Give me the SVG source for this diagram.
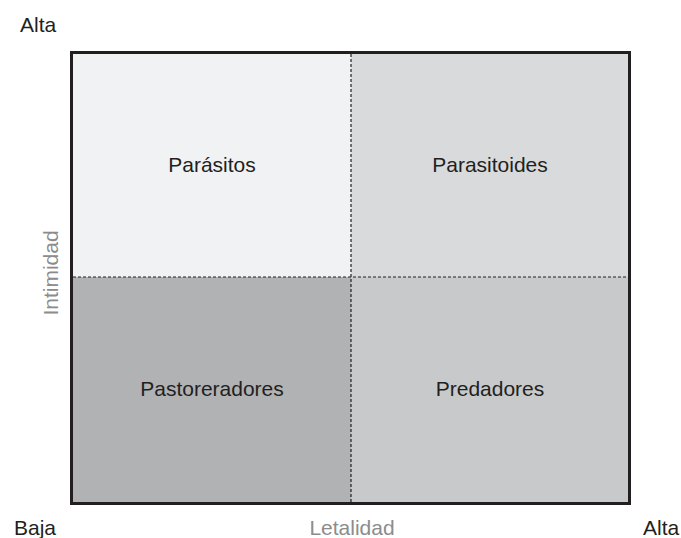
<svg xmlns="http://www.w3.org/2000/svg" width="681" height="538" viewBox="0 0 681 538">
<style>
text{font-family:"Liberation Sans",Arial,sans-serif;font-size:21px;fill:#231f20}
.q{text-anchor:middle}
.ax{fill:#8c8c8c;text-anchor:middle}
.div{stroke:#231f20;stroke-width:1.2;stroke-dasharray:3,2;fill:none}
</style>
<g id="quadrants">
<g id="parasitos"><rect x="71.5" y="52.5" width="279.5" height="224.5" fill="#f1f2f4"/><text class="q" x="212" y="172">Parásitos</text></g>
<g id="parasitoides"><rect x="351" y="52.5" width="278.5" height="224.5" fill="#d9dadc"/><text class="q" x="490" y="172">Parasitoides</text></g>
<g id="pastoreradores"><rect x="71.5" y="277" width="279.5" height="226.5" fill="#b1b2b4"/><text class="q" x="212" y="396">Pastoreradores</text></g>
<g id="predadores"><rect x="351" y="277" width="278.5" height="226.5" fill="#c8c9cb"/><text class="q" x="490" y="396">Predadores</text></g>
</g>
<g id="connectors">
<line class="div" x1="351" y1="54" x2="351" y2="502"/>
<line class="div" x1="73" y1="277" x2="629" y2="277"/>
</g>
<rect x="71.5" y="52.5" width="558" height="451" fill="none" stroke="#231f20" stroke-width="3"/>
<g id="labels">
<text x="20" y="32">Alta</text>
<text x="14" y="535">Baja</text>
<text x="643" y="535">Alta</text>
<text class="ax" x="352" y="535">Letalidad</text>
<text class="ax" transform="translate(58,273) rotate(-90)">Intimidad</text>
</g>
</svg>
